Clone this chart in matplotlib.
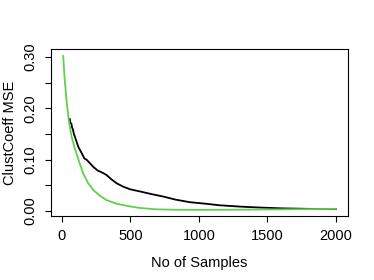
import matplotlib
matplotlib.use("Agg")
import matplotlib.pyplot as plt

plt.rcParams["font.family"] = ["Liberation Sans", "DejaVu Sans"]

# black curve (jagged)
black_x = [58, 62, 70, 75, 80, 88, 95, 110, 120, 130, 150, 165, 180, 205, 229, 260, 300,
           326, 360, 399, 450, 500, 569, 650, 740, 830, 934, 1050, 1150, 1299, 1450,
           1600, 1800, 2000]
black_y = [0.179, 0.172, 0.170, 0.162, 0.160, 0.150, 0.145, 0.133, 0.125, 0.120, 0.110,
           0.102, 0.100, 0.093, 0.086, 0.079, 0.074, 0.070, 0.062, 0.054, 0.047, 0.042,
           0.038, 0.033, 0.028, 0.022, 0.017, 0.014, 0.011, 0.0084, 0.0065, 0.005,
           0.004, 0.0035]

# green curve (smooth)
green_x = [10, 20, 34, 50, 71, 90, 107, 130, 156, 190, 229, 275, 326, 400, 472,
           560, 691, 850, 1000, 1200, 1400, 1600, 1800, 2000]
green_y = [0.302, 0.260, 0.216, 0.178, 0.145, 0.126, 0.112, 0.093, 0.073, 0.055, 0.041,
           0.030, 0.021, 0.014, 0.010, 0.006, 0.003, 0.0022, 0.002, 0.0022, 0.0026,
           0.003, 0.0035, 0.004]

xticks = [0, 500, 1000, 1500, 2000]
yticks = [0.00, 0.05, 0.10, 0.15, 0.20, 0.25, 0.30]
ylabels = ["0.00", "", "0.10", "", "0.20", "", "0.30"]

fig = plt.figure(figsize=(3.74, 2.8), dpi=100)
ax = fig.add_axes([0.136, 0.229, 0.794, 0.596])

ax.plot(black_x, black_y, color="black", lw=1.3)
ax.plot(green_x, green_y, color="#5fd14c", lw=1.3)

ax.set_xlim(-80, 2087)
ax.set_ylim(-0.0097, 0.3156)
ax.set_xticks(xticks)
ax.set_xticklabels([str(t) for t in xticks])
ax.set_yticks(yticks)
ax.set_yticklabels(ylabels, rotation=90, va="center")
ax.tick_params(direction="out", length=4.5, width=0.8, labelsize=10.5, pad=5)
for s in ax.spines.values():
    s.set_linewidth(0.8)

ax.set_xlabel("No of Samples", fontsize=10.5, labelpad=9)
ax.set_ylabel("ClustCoeff MSE", fontsize=10.5, labelpad=5)

fig.savefig("out.png", dpi=100)
